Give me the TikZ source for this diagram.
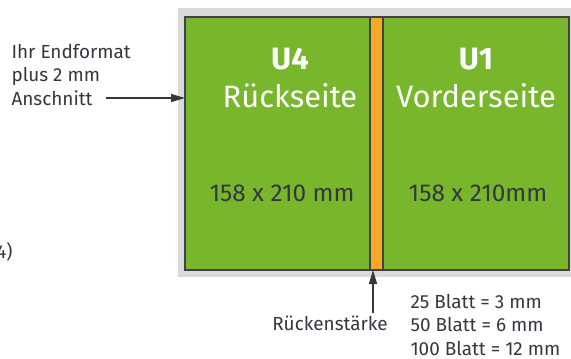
\documentclass[tikz,border=0pt]{standalone}
\usepackage{fontspec}
\setmainfont{Fira Sans}
\usetikzlibrary{arrows.meta,positioning}
\definecolor{umschlaggruen}{HTML}{78B72B}
\definecolor{rueckenorange}{HTML}{F6A924}
\definecolor{randgrau}{HTML}{DADADA}
\definecolor{schrift}{HTML}{34373E}
\definecolor{linie}{HTML}{404248}

\begin{document}
\begin{tikzpicture}[x=1bp, y=-1bp,
		seite/.style = {draw=linie, line width=1.3bp, fill=umschlaggruen,
			minimum height=253bp, inner sep=0pt, outer sep=0pt},
		titel/.style = {text=white, font=\fontsize{31}{38}\selectfont, align=center},
		mass/.style = {text=schrift, font=\fontsize{24.5}{28}\selectfont},
		hinweis/.style = {text=schrift, font=\fontsize{19}{24}\selectfont, align=left},
		pfeil/.style = {draw=schrift, line width=1.2bp,
			-{Triangle[length=14bp,width=8bp]}}]

	\useasboundingbox (0,0) rectangle (571,358);
	\fill[randgrau] (178,8) rectangle (571,277);

	% Umschlag
	\node[seite, minimum width=185bp] (rueckseite) at (277.5,143.5) {};
	\node[seite, fill=rueckenorange, minimum width=13bp, right=0pt of rueckseite] (ruecken) {};
	\node[seite, minimum width=186bp, right=0pt of ruecken] (vorderseite) {};

	\node[titel] (u4) at (290,78) {\textbf{U4}\\Rückseite};
	\node[mass] (massu4) at (282,193) {158 x 210 mm};
	\node[titel] (u1) at (476,78) {\textbf{U1}\\Vorderseite};
	\node[mass] (massu1) at (478,193) {158 x 210mm};

	% Hinweise
	\node[hinweis, anchor=west] (endformat) at (8,75) {Ihr Endformat\\plus 2 mm\\Anschnitt};
	\coordinate (anschnitt) at (106,98);
	\draw[pfeil] (anschnitt) -- (anschnitt -| rueckseite.west);

	\node[hinweis, anchor=east] (fragment) at (16,252) {4)};

	\node[hinweis] (rueckenstaerke) at (330,323) {Rückenstärke};
	\coordinate (fuss) at (373,313);
	\draw[pfeil] (fuss) -- (fuss |- ruecken.south);

	\node[hinweis, anchor=west] (blatt) at (407,325) {25 Blatt = 3 mm\\50 Blatt = 6 mm\\100 Blatt = 12 mm};
\end{tikzpicture}
\end{document}
